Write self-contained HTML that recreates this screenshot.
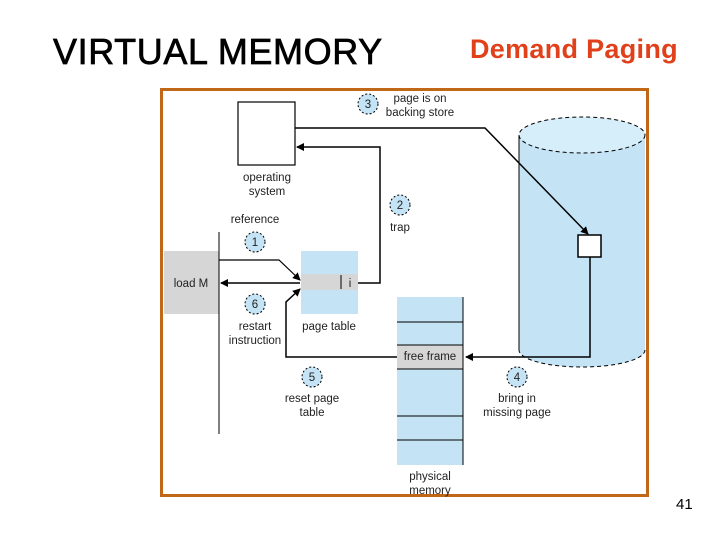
<!DOCTYPE html>
<html><head><style>
body{margin:0;width:720px;height:540px;background:#fff;overflow:hidden;position:relative;font-family:"Liberation Sans",sans-serif}
.t{position:absolute;white-space:nowrap}
</style></head><body>
<div class="t" style="left:53px;top:31px;font-size:36px;color:#000;letter-spacing:0.6px;-webkit-text-stroke:0.7px #000">VIRTUAL MEMORY</div>
<div class="t" style="left:470px;top:34px;font-size:27px;font-weight:bold;color:#e0401a;letter-spacing:0.3px">Demand Paging</div>
<div class="t" style="left:676px;top:496px;font-size:15px">41</div>
<svg width="720" height="540" style="position:absolute;left:0;top:0" font-family="Liberation Sans, sans-serif" font-size="11.5" fill="#222">
<defs>
<marker id="a" markerWidth="8" markerHeight="8" refX="7" refY="4" orient="auto" markerUnits="userSpaceOnUse"><path d="M0,0 L8,4 L0,8 z" fill="#000"/></marker>
</defs>
<rect x="161.5" y="89.5" width="486" height="406" fill="#fff" stroke="#c06818" stroke-width="3"/>
<rect x="519" y="135" width="126" height="215" fill="#c4e4f6"/>
<ellipse cx="582" cy="350" rx="63" ry="17" fill="#c4e4f6" stroke="#000" stroke-dasharray="4,3"/>
<rect x="519" y="135" width="126" height="215" fill="#c4e4f6"/>
<line x1="519" y1="135" x2="519" y2="350" stroke="#000"/>
<ellipse cx="582" cy="135" rx="63" ry="18" fill="#d6eefa" stroke="#000" stroke-dasharray="4,3"/>
<rect x="578" y="235" width="23" height="22" fill="#fff" stroke="#000" stroke-width="1.5"/>
<rect x="238" y="102" width="57" height="63" fill="#fff" stroke="#000" stroke-width="1.2"/>
<rect x="164" y="251" width="55" height="63" fill="#d6d6d6"/>
<line x1="219" y1="232" x2="219" y2="434" stroke="#000"/>
<rect x="301" y="251" width="57" height="63" fill="#c4e4f6"/>
<rect x="301" y="274" width="57" height="16" fill="#d6d6d6"/>
<line x1="341" y1="275" x2="341" y2="289" stroke="#000"/>
<rect x="397" y="297" width="66" height="168" fill="#c4e4f6"/>
<rect x="397" y="345" width="66" height="24" fill="#d6d6d6"/>
<g stroke="#000"><line x1="397" y1="322" x2="463" y2="322"/><line x1="397" y1="345" x2="463" y2="345"/><line x1="397" y1="369" x2="463" y2="369"/><line x1="397" y1="416" x2="463" y2="416"/><line x1="397" y1="440" x2="463" y2="440"/><line x1="463" y1="297" x2="463" y2="465"/></g>
<g fill="none" stroke="#000" stroke-width="1.2">
<polyline points="295,128 485,128 588,234" marker-end="url(#a)" stroke-width="1.5"/>
<polyline points="358,283 380,283 380,147 297,147" marker-end="url(#a)" stroke-width="1.5"/>
<polyline points="219,260 279,260 300,280" marker-end="url(#a)"/>
<polyline points="300,283 221,283" marker-end="url(#a)" stroke-width="1.5"/>
<polyline points="397,357 286,357 286,302 300,289" marker-end="url(#a)" stroke-width="1.5"/>
<polyline points="590,257 590,357 466,357" marker-end="url(#a)" stroke-width="1.5"/>
</g>
<g fill="#c4e4f6" stroke="#000" stroke-dasharray="2,2">
<circle cx="368" cy="104" r="10"/><circle cx="400" cy="205" r="10"/><circle cx="255" cy="242" r="10"/><circle cx="255" cy="304" r="10"/><circle cx="312" cy="377" r="10"/><circle cx="517" cy="377" r="10"/>
</g>
<g text-anchor="middle">
<text x="368" y="108">3</text><text x="400" y="209">2</text><text x="255" y="246">1</text><text x="255" y="308">6</text><text x="312" y="381">5</text><text x="517" y="381">4</text>
<text x="420" y="102">page is on</text><text x="420" y="116">backing store</text>
<text x="267" y="181">operating</text><text x="267" y="195">system</text>
<text x="255" y="223">reference</text>
<text x="400" y="231">trap</text>
<text x="255" y="330">restart</text><text x="255" y="344">instruction</text>
<text x="329" y="330">page table</text>
<text x="312" y="402">reset page</text><text x="312" y="416">table</text>
<text x="517" y="402">bring in</text><text x="517" y="416">missing page</text>
<text x="430" y="360">free frame</text>
<text x="430" y="480">physical</text><text x="430" y="494">memory</text>
<text x="191" y="287">load M</text>
<text x="350" y="287">i</text>
</g>
</svg>
</body></html>
